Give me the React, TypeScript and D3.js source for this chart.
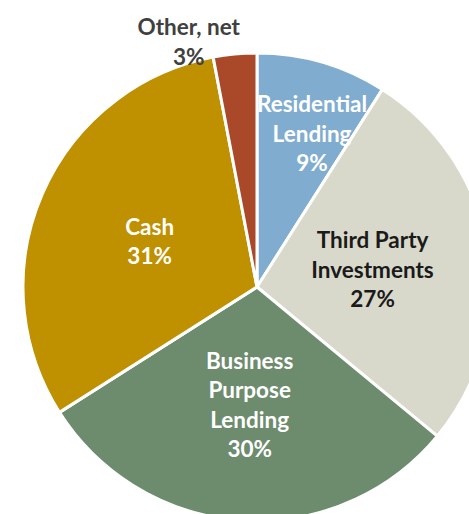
import React from "react";
import * as d3 from "d3";

const categories = ["Residential Lending", "Third Party Investments", "Business Purpose Lending", "Cash", "Other, net"];
const labelLines = [
  ["Residential", "Lending", "9%"],
  ["Third Party", "Investments", "27%"],
  ["Business", "Purpose", "Lending", "30%"],
  ["Cash", "31%"],
  ["Other, net", "3%"],
];
const values = [9, 27, 30, 31, 3];
const colors = ["#80ACD0", "#D9D9CB", "#6D8B6D", "#BF9000", "#A9492A"];
const textColors = ["#FFFFFF", "#1A1A1A", "#FFFFFF", "#FFFFFF", "#404040"];

const W = 469;
const H = 514;
const cx = 257;
const cy = 287;
const R = 234;
const LINE = 29.5;

export default function App() {
  const pie = d3.pie<number>().sort(null).value((d) => d)(values);
  const arc = d3.arc<d3.PieArcDatum<number>>().innerRadius(0).outerRadius(R);

  const labelPos = (d: d3.PieArcDatum<number>) => {
    const share = (d.endAngle - d.startAngle) / (2 * Math.PI);
    const mid = (d.startAngle + d.endAngle) / 2;
    if (share < 0.05) {
      const r = R + 13;
      return [Math.sin(mid) * r - 45, -Math.cos(mid) * r];
    }
    if (share < 0.12) {
      const r = R * 0.7;
      const a = mid + 0.06;
      return [Math.sin(a) * r, -Math.cos(a) * r];
    }
    const r = R * 0.5;
    return [Math.sin(mid) * r, -Math.cos(mid) * r];
  };

  return (
    <svg width={W} height={H} style={{ position: "absolute", left: 0, top: 0, background: "#fff" }}>
      <g transform={`translate(${cx},${cy})`}>
        {pie.map((d, i) => (
          <path key={categories[i]} d={arc(d) || ""} fill={colors[i]} stroke="#FFFFFF" strokeWidth={3} strokeLinejoin="round" />
        ))}
        {pie.map((d, i) => {
          const [x, y] = labelPos(d);
          const lines = labelLines[i];
          const y0 = y - ((lines.length - 1) * LINE) / 2;
          return (
            <text
              key={"l" + i}
              x={x}
              y={y0}
              textAnchor="middle"
              dominantBaseline="central"
              fill={textColors[i]}
              style={{ fontFamily: "Lato, 'Open Sans', sans-serif", fontWeight: 700, fontSize: 22.5 }}
            >
              {lines.map((t, j) => (
                <tspan key={j} x={x} y={y0 + j * LINE}>
                  {t}
                </tspan>
              ))}
            </text>
          );
        })}
      </g>
    </svg>
  );
}
